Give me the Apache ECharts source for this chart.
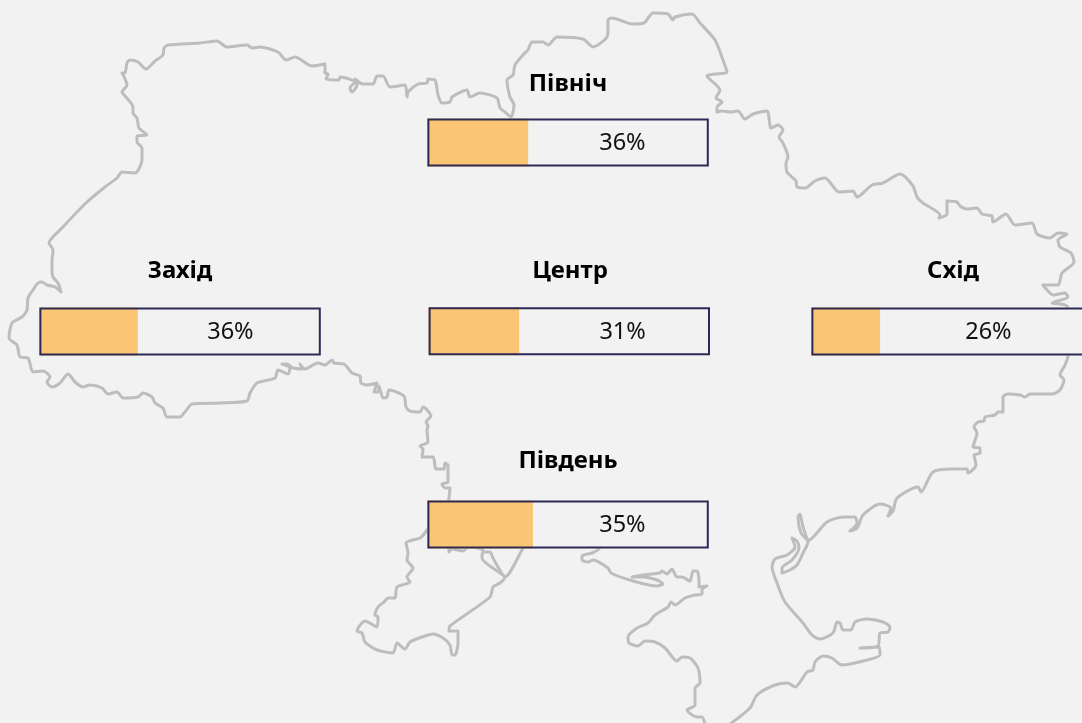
<!DOCTYPE html>
<html>
<head>
<meta charset="utf-8">
<style>html,body{margin:0;padding:0;background:#f2f2f2}#c{width:1082px;height:723px}</style>
<script src="https://cdn.jsdelivr.net/npm/echarts@6/dist/echarts.min.js"></script>
</head>
<body>
<div id="c"></div>
<script>
const regions = ['Північ', 'Захід', 'Центр', 'Схід', 'Південь'];
const shownPercent = [36, 36, 31, 26, 35];
const barLengths = [35.8, 35, 32.2, 24.4, 37.5];

const outlineWestSouth = [[52,260],[52,270],[53,277],[58,283],[61,292],[55,287],[47,285],[42,282],[38,283],[33,290],[28,298],[27,310],[22,317],[12,323],[9,338],[17,345],[20,357],[28,358],[33,372],[43,371],[50,377],[47,382],[52,387],[60,383],[68,374],[75,382],[83,387],[90,385],[102,388],[108,394],[117,392],[123,398],[138,397],[143,393],[152,397],[155,403],[163,408],[167,417],[180,417],[185,412],[192,404],[220,403],[247,401],[250,393],[257,383],[275,378],[278,370],[288,374],[290,368],[282,364],[287,364],[293,368],[303,369],[300,364],[305,369],[318,363],[325,365],[332,360],[334,363],[344,364],[352,373],[360,376],[361,383],[367,385],[377,383],[374,392],[378,392],[379,386],[383,398],[387,397],[389,390],[404,396],[406,407],[410,411],[420,412],[423,407],[431,416],[426,422],[428,426],[427,430],[428,442],[420,446],[423,449],[422,457],[433,457],[436,469],[444,469],[445,463],[448,465],[448,482],[442,484],[445,488],[450,488],[449,498],[447,505],[436,517],[425,533],[420,538],[406,543],[408,553],[407,560],[413,568],[407,577],[410,582],[397,587],[395,598],[388,598],[384,602],[378,607],[375,615],[378,617],[377,627],[365,621],[357,631],[362,633],[365,642],[377,650],[393,653],[397,643],[405,649],[410,642],[422,637],[433,634],[443,638],[450,645],[452,655],[455,655],[458,643],[458,631],[449,631],[450,626],[490,597],[493,587],[500,583],[505,577],[500,573],[482,558],[483,552],[490,552],[493,558],[498,567],[505,577],[522,550],[526,542]];
const outlineDniester = [[449,545],[449,552],[452,549],[463,551],[468,547],[482,549],[483,552]];
const outlineCrimeaWest = [[601,545],[599,549],[592,553],[582,556],[582,560],[588,562],[593,560],[608,568],[611,573],[633,581],[657,586],[663,584],[657,580],[643,577],[632,577],[643,575],[660,573],[662,571],[667,574],[672,569],[677,577],[682,577],[690,581],[693,571],[697,571],[699,580],[699,587],[707,586],[702,590],[702,594],[695,595],[685,598],[675,605],[671,602],[668,607],[655,615],[648,623],[637,628],[628,637],[629,643],[638,646],[645,641],[655,642],[665,648],[677,661],[682,657],[690,658],[698,668],[700,683],[695,688],[695,705],[687,710],[697,717],[702,717],[705,724]];
const outlineEastNorth = [[730,724],[750,708],[757,695],[775,685],[788,683],[795,687],[807,672],[813,670],[815,662],[823,656],[832,658],[842,665],[863,661],[880,655],[879,647],[860,648],[878,646],[880,633],[888,632],[890,627],[883,622],[867,619],[855,622],[851,630],[843,630],[840,623],[837,622],[833,633],[820,639],[812,635],[803,623],[785,602],[777,583],[772,567],[775,559],[787,555],[795,547],[792,538],[797,541],[799,548],[792,560],[782,568],[782,573],[790,570],[797,565],[803,553],[808,542],[801,533],[798,517],[800,514],[803,527],[809,540],[827,522],[843,517],[855,517],[857,523],[850,531],[857,528],[863,515],[880,504],[891,508],[888,516],[893,511],[897,498],[918,487],[921,492],[933,472],[952,469],[967,469],[968,473],[976,465],[974,455],[980,453],[980,448],[973,447],[977,433],[974,427],[978,422],[984,421],[985,417],[995,415],[998,412],[1003,412],[1003,397],[1008,394],[1020,395],[1025,397],[1030,394],[1052,394],[1060,390],[1064,380],[1060,375],[1065,365],[1068,356],[1070,330],[1067,306],[1052,303],[1068,297],[1065,293],[1053,295],[1047,290],[1043,285],[1058,285],[1062,273],[1074,262],[1071,253],[1060,247],[1058,240],[1067,234],[1058,233],[1050,238],[1037,234],[1032,223],[1015,225],[1006,214],[993,222],[992,216],[982,214],[977,208],[967,209],[960,206],[957,202],[947,201],[947,214],[939,218],[940,215],[923,203],[917,197],[913,186],[900,174],[883,183],[872,185],[857,197],[853,191],[839,192],[825,178],[815,181],[805,188],[797,187],[796,181],[787,172],[786,163],[788,157],[783,143],[779,137],[783,130],[778,125],[771,128],[767,111],[753,114],[745,119],[738,111],[730,112],[722,111],[717,112],[717,107],[722,102],[716,98],[720,90],[707,76],[727,72],[723,60],[715,40],[700,23],[692,14],[675,17],[673,20],[668,14],[653,13],[644,23],[632,24],[612,18],[608,20],[608,28],[607,37],[593,47],[583,39],[557,37],[548,45],[543,42],[532,42],[528,50],[523,55],[515,65],[513,75],[507,80],[510,97],[514,105],[511,117],[505,112],[500,108],[497,98],[480,93],[470,97],[467,90],[452,97],[450,102],[442,103],[438,95],[435,80],[428,79],[427,83],[418,84],[408,92],[407,97],[405,85],[390,87],[383,76],[377,76],[373,84],[363,84],[355,79],[357,85],[352,92],[350,88],[355,82],[340,77],[339,80],[326,79],[328,74],[325,73],[325,64],[312,66],[295,57],[286,60],[278,52],[260,47],[252,48],[247,45],[227,47],[217,41],[200,43],[168,45],[164,48],[163,55],[155,61],[146,69],[138,62],[130,60],[127,63],[125,73],[122,73],[127,85],[122,92],[125,96],[133,107],[133,113],[137,118],[139,128],[147,135],[137,136],[137,142],[142,148],[142,160],[135,173],[122,172],[117,178],[105,187],[87,202],[62,228],[49,243],[53,250],[52,260]];

const layoutBars = [
  {x: 427.4, y: 118.6, label: 195, hx: 568, hy: 84},
  {x: 39.4, y: 307.4, label: 191, hx: 180, hy: 271},
  {x: 428.6, y: 307.2, label: 194, hx: 570, hy: 271},
  {x: 811.4, y: 307.6, label: 177, hx: 953, hy: 271},
  {x: 427.4, y: 500.6, label: 195, hx: 568, hy: 461}
];
const barW = 281.4, barH = 48;
const FONT = '"Noto Sans","Open Sans",sans-serif';

const grids = [{left: 0, top: 0, width: 1082, height: 723, outerBoundsMode: 'none'}];
const xAxes = [{type: 'value', min: 0, max: 1082, show: false, gridIndex: 0}];
const yAxes = [{type: 'value', min: 0, max: 723, inverse: true, show: false, gridIndex: 0}];
const series = [outlineWestSouth, outlineDniester, outlineCrimeaWest, outlineEastNorth].map(d => ({
  type: 'line', data: d, xAxisIndex: 0, yAxisIndex: 0, symbol: 'none', smooth: 0.25, silent: true, z: 2,
  lineStyle: {color: '#bdbdbd', width: 3, join: 'round'}
}));
const graphics = [];

regions.forEach((name, i) => {
  const g = i + 1, l = layoutBars[i];
  grids.push({left: l.x, top: l.y, width: barW, height: barH, outerBoundsMode: 'none'});
  xAxes.push({type: 'value', min: 0, max: 100, show: false, gridIndex: g});
  yAxes.push({type: 'category', data: [name], show: false, gridIndex: g});
  series.push({
    type: 'bar', name, data: [barLengths[i]], xAxisIndex: g, yAxisIndex: g, barWidth: '100%', barGap: '-100%', z: 5,
    showBackground: true, backgroundStyle: {color: '#f2f2f2'},
    itemStyle: {color: '#fcc575'}
  });
  series.push({
    type: 'bar', name, data: [100], xAxisIndex: g, yAxisIndex: g, barWidth: '100%', barGap: '-100%', z: 6,
    itemStyle: {color: 'rgba(0,0,0,0)', borderColor: '#2e2a57', borderWidth: 2},
    label: {show: true, position: [l.label, '50%'], align: 'center', verticalAlign: 'middle', offset: [0, 1],
      formatter: shownPercent[i] + '%', fontFamily: FONT, fontSize: 23.5, color: '#111111'}
  });
  graphics.push({type: 'text', x: l.hx, y: l.hy, z: 10, style: {
    text: name, textAlign: 'center', textVerticalAlign: 'middle',
    font: 'bold 24px ' + FONT, fill: '#000000'}});
});

const chart = echarts.init(document.getElementById('c'));
chart.setOption({
  animation: false, backgroundColor: '#f2f2f2',
  grid: grids, xAxis: xAxes, yAxis: yAxes, series, graphic: graphics
});
</script>
</body>
</html>
